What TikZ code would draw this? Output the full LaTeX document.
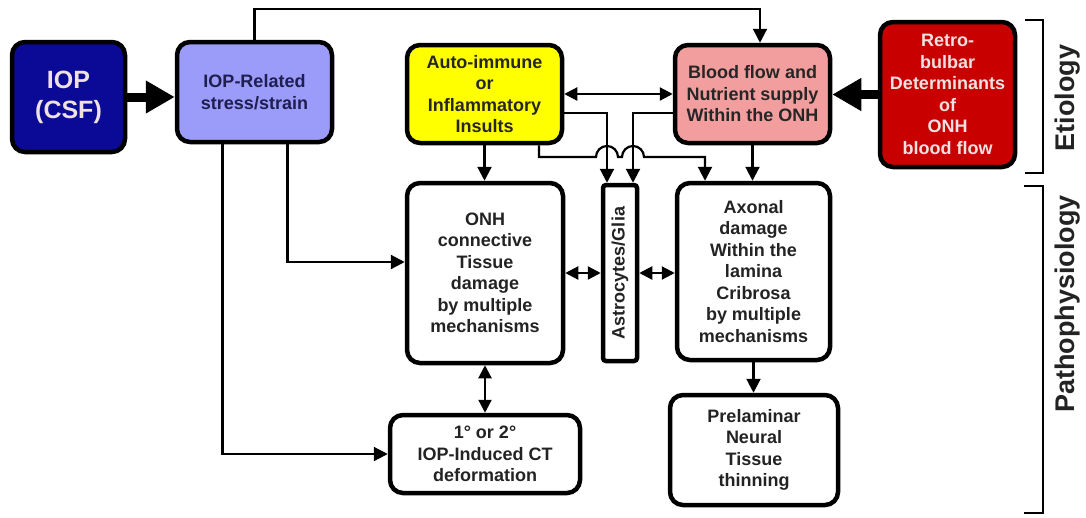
\documentclass[tikz,border=0pt]{standalone}
\usepackage{fontspec}
\setmainfont{Liberation Sans}
\usetikzlibrary{arrows.meta,calc}
\definecolor{iopblue}{RGB}{10,10,150}
\definecolor{lav}{RGB}{155,155,250}
\definecolor{yel}{RGB}{255,255,0}
\definecolor{pink}{RGB}{242,158,158}
\definecolor{dred}{RGB}{200,0,0}
\definecolor{navytxt}{RGB}{30,30,80}
\definecolor{ltxt}{RGB}{240,225,225}
\definecolor{dtxt}{RGB}{35,35,35}
\begin{document}
\begin{tikzpicture}[x=1pt,y=1pt,
  box/.style={draw=black,line width=4.5pt,rounded corners=13pt,align=center,inner sep=0pt,
    font=\fontsize{18}{21.5}\selectfont\bfseries,text=dtxt},
  conn/.style={line width=2.2pt,-{Triangle[length=14pt,width=14pt]}},
  dconn/.style={line width=2.2pt,{Triangle[length=13pt,width=13pt]}-{Triangle[length=13pt,width=13pt]}},
  fat/.style={line width=9pt,-{Triangle[length=29pt,width=31pt]}},
  brk/.style={line width=2.5pt},
  side/.style={font=\fontsize{27}{30}\selectfont\bfseries,rotate=90,text=dtxt}]
\useasboundingbox (0,0) rectangle (1086,-517);
% nodes
\node[box,fill=iopblue,text=ltxt,minimum width=113,minimum height=110,
  font=\fontsize{25}{30}\selectfont\bfseries] (iop) at (68.5,-97) {IOP\\(CSF)};
\node[box,fill=lav,text=navytxt,minimum width=155,minimum height=100] (rel) at (254.5,-92) {IOP-Related\\stress/strain};
\node[box,fill=yel,text=black!85,minimum width=155,minimum height=98] (auto) at (484.5,-94) {Auto-immune\\or\\Inflammatory\\Insults};
\node[box,fill=pink,text=black!85,minimum width=155,minimum height=98] (blood) at (752.5,-94) {Blood flow and\\Nutrient supply\\Within the ONH};
\node[box,fill=dred,text=ltxt,minimum width=135,minimum height=145] (retro) at (947.5,-94.5) {Retro-\\bulbar\\Determinants\\of\\ONH\\blood flow};
\node[box,fill=white,minimum width=156,minimum height=180] (onh) at (485,-273) {ONH\\connective\\Tissue\\damage\\by multiple\\mechanisms};
\node[box,fill=white,rounded corners=3pt,minimum width=34,minimum height=176] (astro) at (620,-273) {};
\node[font=\fontsize{18}{21.5}\selectfont\bfseries,text=dtxt,rotate=90] (astrotxt) at (astro.center) {Astrocytes/Glia};
\node[box,fill=white,minimum width=153,minimum height=177] (axon) at (753.5,-271.5) {Axonal\\damage\\Within the\\lamina\\Cribrosa\\by multiple\\mechanisms};
\node[box,fill=white,minimum width=190,minimum height=78] (ct) at (485,-454) {1° or 2°\\IOP-Induced CT\\deformation};
\node[box,fill=white,minimum width=168,minimum height=110] (pre) at (754,-450) {Prelaminar\\Neural\\Tissue\\thinning};
% thick arrows
\draw[fat] (iop.east) -- (iop.east -| rel.west);
\draw[fat] (retro.west) -- (retro.west -| blood.east);
% top route
\draw[conn] (rel.north) -- ++(0,31) -| ([xshift=7.5pt]blood.north);
% auto <-> blood
\draw[dconn] (auto.east) -- (auto.east -| blood.west);
% to astro
\draw[conn] ([yshift=-19pt]auto.east) -| ([xshift=-13pt]astro.north);
\draw[conn] ([yshift=-19pt]blood.west) -| ([xshift=13pt]astro.north);
% hop line
\coordinate (h0) at (539,-157);
\coordinate (h1) at (705,-157);
\draw[conn] (auto.south -| h0) -- (h0) -- (596,-157) arc[start angle=180,end angle=0,radius=11pt]
  -- (622,-157) arc[start angle=180,end angle=0,radius=11pt] -- (h1) -- (h1 |- axon.north);
% verticals
\draw[conn] (auto.south) -- (auto.south |- onh.north);
\draw[conn] (blood.south) -- (blood.south |- axon.north);
\draw[conn] ([xshift=33pt]rel.south) |- ([yshift=11pt]onh.west);
\draw[conn] ([xshift=-32pt]rel.south) |- (ct.west);
\draw[dconn] (onh.east) -- (astro.west);
\draw[dconn] (astro.east) -- (astro.east -| axon.west);
\draw[dconn] (onh.south) -- (onh.south |- ct.north);
\draw[conn] (axon.south) -- (axon.south |- pre.north);
% brackets
\draw[brk] (1025,-20) -- (1043,-20) -- (1043,-173) -- (1025,-173);
\draw[brk] (1024,-186) -- (1043,-186) -- (1043,-513) -- (1024,-513);
\node[side] (eti) at (1068,-98) {Etiology};
\node[side] (path) at (1068,-304) {Pathophysiology};
\end{tikzpicture}
\end{document}
